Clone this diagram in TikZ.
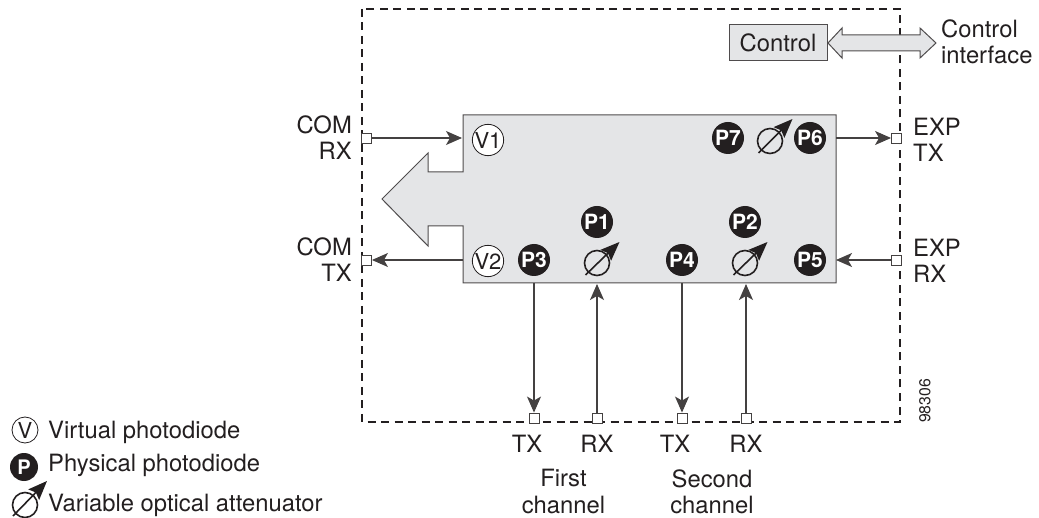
\documentclass[tikz,border=0pt]{standalone}
\usepackage{fontspec}
\setmainfont{TeX Gyre Heros}
\usetikzlibrary{arrows.meta}
\definecolor{panel}{HTML}{E4E5E7}
\definecolor{ink}{HTML}{231F20}
\tikzset{
  txt/.style={font=\fontsize{23.8}{26.2}\selectfont,text=ink,inner sep=0pt,align=center},
  txtl/.style={font=\fontsize{23.8}{26.2}\selectfont,text=ink,inner sep=0pt,align=left,anchor=west},
  txtr/.style={font=\fontsize{23.8}{26.2}\selectfont,text=ink,inner sep=0pt,align=right,anchor=east},
  port/.style={draw=ink!85,fill=white,line width=0.9pt,minimum size=10pt,inner sep=0pt},
  conn/.style={draw=ink!85,line width=1.1pt,-{Stealth[length=16pt,width=14pt,inset=4pt]},shorten >=0pt},
  pdiode/.style={circle,fill=ink,text=white,minimum size=32pt,inner sep=0pt,font=\fontsize{21}{21}\selectfont\bfseries},
  vdiode/.style={circle,draw=ink,fill=white,line width=0.8pt,minimum size=29pt,inner sep=0pt,font=\fontsize{22}{22}\selectfont,text=ink},
  voacirc/.style={circle,draw=ink,line width=1.6pt,minimum size=25pt,inner sep=0pt},
  voaarrow/.style={draw=ink,line width=1.6pt,-{Stealth[length=19pt,width=15pt,inset=3pt]}},
}
\begin{document}
\begin{tikzpicture}[x=1pt,y=-1pt]
\useasboundingbox (0,0) rectangle (1039,518);
% dashed enclosure
\draw[ink,line width=1.1pt,dash pattern=on 8pt off 5.5pt] (362,9) rectangle (900,422);
% main panel
\draw[draw=ink!80,fill=panel,line width=1pt]
  (463,115) -- (836,115) -- (836,283) -- (463,283) -- (463,226) -- (428,226) -- (428,246)
  -- (382,199) -- (428,153) -- (428,172) -- (463,172) -- cycle;
\coordinate (eV1) at (462,138);
\coordinate (eV2) at (463,260);
\coordinate (eP6) at (836,138);
\coordinate (eP5) at (836,260);
\coordinate (eP3) at (534,283);
\coordinate (eA1) at (597,284);
\coordinate (eP4) at (682,283);
\coordinate (eA2) at (746,284);
% ports
\node[port] (pComRx) at (366.5,138) {};
\node[port] (pComTx) at (366.5,260) {};
\node[port] (pExpTx) at (896.5,138) {};
\node[port] (pExpRx) at (896.5,260) {};
\node[port] (pTx1) at (534,418) {};
\node[port] (pRx1) at (597,418) {};
\node[port] (pTx2) at (682,418) {};
\node[port] (pRx2) at (746,418) {};
% connectors
\draw[conn] (pComRx) -- (eV1);
\draw[conn] (eV2) -- (pComTx);
\draw[conn] (eP6) -- (pExpTx);
\draw[conn] (pExpRx) -- (eP5);
\draw[conn] (eP3) -- (pTx1);
\draw[conn] (pRx1) -- (eA1);
\draw[conn] (eP4) -- (pTx2);
\draw[conn] (pRx2) -- (eA2);
% diodes
\node[vdiode] (V1) at (488,140) {V1};
\node[vdiode] (V2) at (488,261) {V2};
\node[pdiode] (P1) at (597,222) {P1};
\node[pdiode] (P2) at (745,222) {P2};
\node[pdiode] (P3) at (534,260) {P3};
\node[pdiode] (P4) at (682,260) {P4};
\node[pdiode] (P5) at (810,260) {P5};
\node[pdiode] (P6) at (810,138) {P6};
\node[pdiode] (P7) at (728,138) {P7};
% attenuators
\node[voacirc] (A1) at (597,263) {};
\coordinate (A1s) at (585.5,275); \coordinate (A1e) at (619.5,242);
\draw[voaarrow] (A1s) -- (A1e);
\node[voacirc] (A2) at (745,263) {};
\coordinate (A2s) at (733.5,275); \coordinate (A2e) at (767.5,242);
\draw[voaarrow] (A2s) -- (A2e);
\node[voacirc] (A3) at (770,141) {};
\coordinate (A3s) at (758.5,153); \coordinate (A3e) at (792.5,119);
\draw[voaarrow] (A3s) -- (A3e);
% control
\node[draw=ink!80,fill=panel,line width=1pt,minimum width=98pt,minimum height=36pt,inner sep=0pt,txt] (ctrl) at (778,43) {Control};
\draw[draw=ink!80,fill=panel,line width=1pt]
  (828,43) -- (842,28) -- (842,35) -- (920,35) -- (920,28) -- (936,43) -- (920,58) -- (920,51) -- (842,51) -- (842,58) -- cycle;
\node[txtl] (ctrlif) at (941,42) {Control\\interface};
% labels
\node[txtr] (lComRx) at (352,138) {COM\\RX};
\node[txtr] (lComTx) at (352,260) {COM\\TX};
\node[txtl] (lExpTx) at (913,139.5) {EXP\\TX};
\node[txtl] (lExpRx) at (913,261) {EXP\\RX};
\node[txt] (lT1) at (527,444) {TX};
\node[txt] (lR1) at (597,444) {RX};
\node[txt] (lT2) at (675,444) {TX};
\node[txt] (lR2) at (746,444) {RX};
\node[txt] (lFirst) at (563.5,491.5) {First\\channel};
\node[txt] (lSecond) at (712,491.5) {Second\\channel};
\node[rotate=90,font=\fontsize{15.8}{15.8}\selectfont,text=ink,inner sep=0pt] (num) at (925,401) {98306};
% legend
\node[vdiode,minimum size=26pt] (lgV) at (25,430) {V};
\node[txtl] (lgVt) at (48,432) {Virtual photodiode};
\node[pdiode,minimum size=28pt,font=\fontsize{20}{20}\selectfont\bfseries] (lgP) at (24,467) {P};
\node[txtl] (lgPt) at (48,465) {Physical photodiode};
\node[voacirc] (lgA) at (25,505) {};
\coordinate (lgAs) at (13,516); \coordinate (lgAe) at (47,481);
\draw[voaarrow] (lgAs) -- (lgAe);
\node[txtl] (lgAt) at (48,505.5) {Variable optical attenuator};
\end{tikzpicture}
\end{document}
